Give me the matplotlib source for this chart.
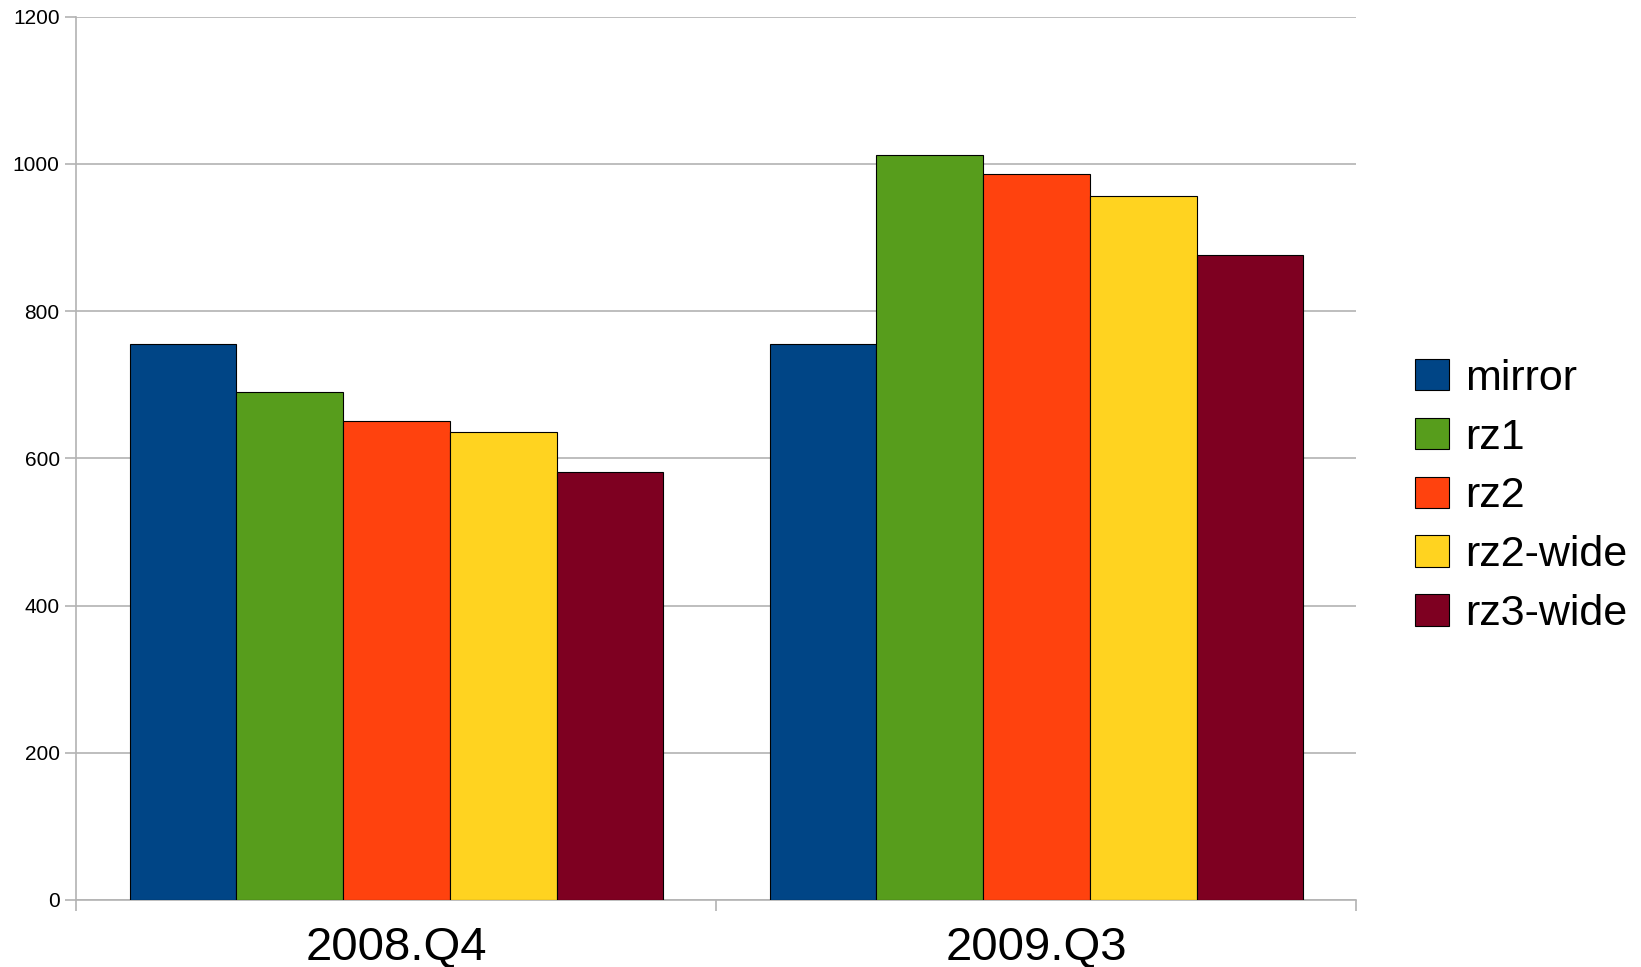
import matplotlib
matplotlib.use("Agg")
import matplotlib.pyplot as plt
import numpy as np

plt.rcParams['font.family'] = ['Liberation Sans', 'DejaVu Sans']

categories = ["2008.Q4", "2009.Q3"]
series_names = ["mirror", "rz1", "rz2", "rz2-wide", "rz3-wide"]
mirror = [755, 756]
rz1 = [690, 1012]
rz2 = [651, 987]
rz2_wide = [636, 957]
rz3_wide = [581, 876]
series_values = [mirror, rz1, rz2, rz2_wide, rz3_wide]
colors = ["#004586", "#579d1c", "#ff420e", "#ffd320", "#7e0021"]
yticks = [0, 200, 400, 600, 800, 1000, 1200]

fig = plt.figure(figsize=(16.41, 9.67), dpi=100)
ax = fig.add_axes([0.04656, 0.0693, 0.78, 0.9134])

x = np.arange(len(categories))
n = len(series_names)
bw = 0.1668
for i, (name, vals, c) in enumerate(zip(series_names, series_values, colors)):
    offs = (i - (n - 1) / 2) * bw
    ax.bar(x + offs, vals, width=bw, color=c, edgecolor="black", linewidth=0.8,
           label=name, zorder=3)

ax.set_xlim(-0.5, len(categories) - 0.5)
ax.set_ylim(0, 1200)
ax.set_yticks(yticks)
ax.set_yticklabels([str(t) for t in yticks], fontsize=15)
ax.yaxis.grid(True, color="#b3b3b3", linewidth=1.2, zorder=0)
ax.set_axisbelow(True)

ax.set_xticks(x)
ax.set_xticklabels(categories, fontsize=34)
ax.tick_params(axis='x', length=0, pad=19)
ax.set_xticks(np.arange(-0.5, len(categories), 1.0), minor=True)
ax.tick_params(axis='x', which='minor', length=8, color="#b3b3b3", width=1.2, direction='out')
ax.tick_params(axis='y', length=8, color="#b3b3b3", width=1.2, pad=4, labelcolor="black")

for s in ['top', 'right']:
    ax.spines[s].set_visible(False)
for s in ['left', 'bottom']:
    ax.spines[s].set_color("#b3b3b3")
    ax.spines[s].set_linewidth(1.2)

leg = fig.legend(loc='center left', bbox_to_anchor=(1415 / 1641, 0.4866), frameon=False,
                 fontsize=31, handlelength=0.78, handleheight=0.76, handletextpad=0.39,
                 labelspacing=0.44, borderpad=0, borderaxespad=0)

fig.savefig("out.png", dpi=100)
